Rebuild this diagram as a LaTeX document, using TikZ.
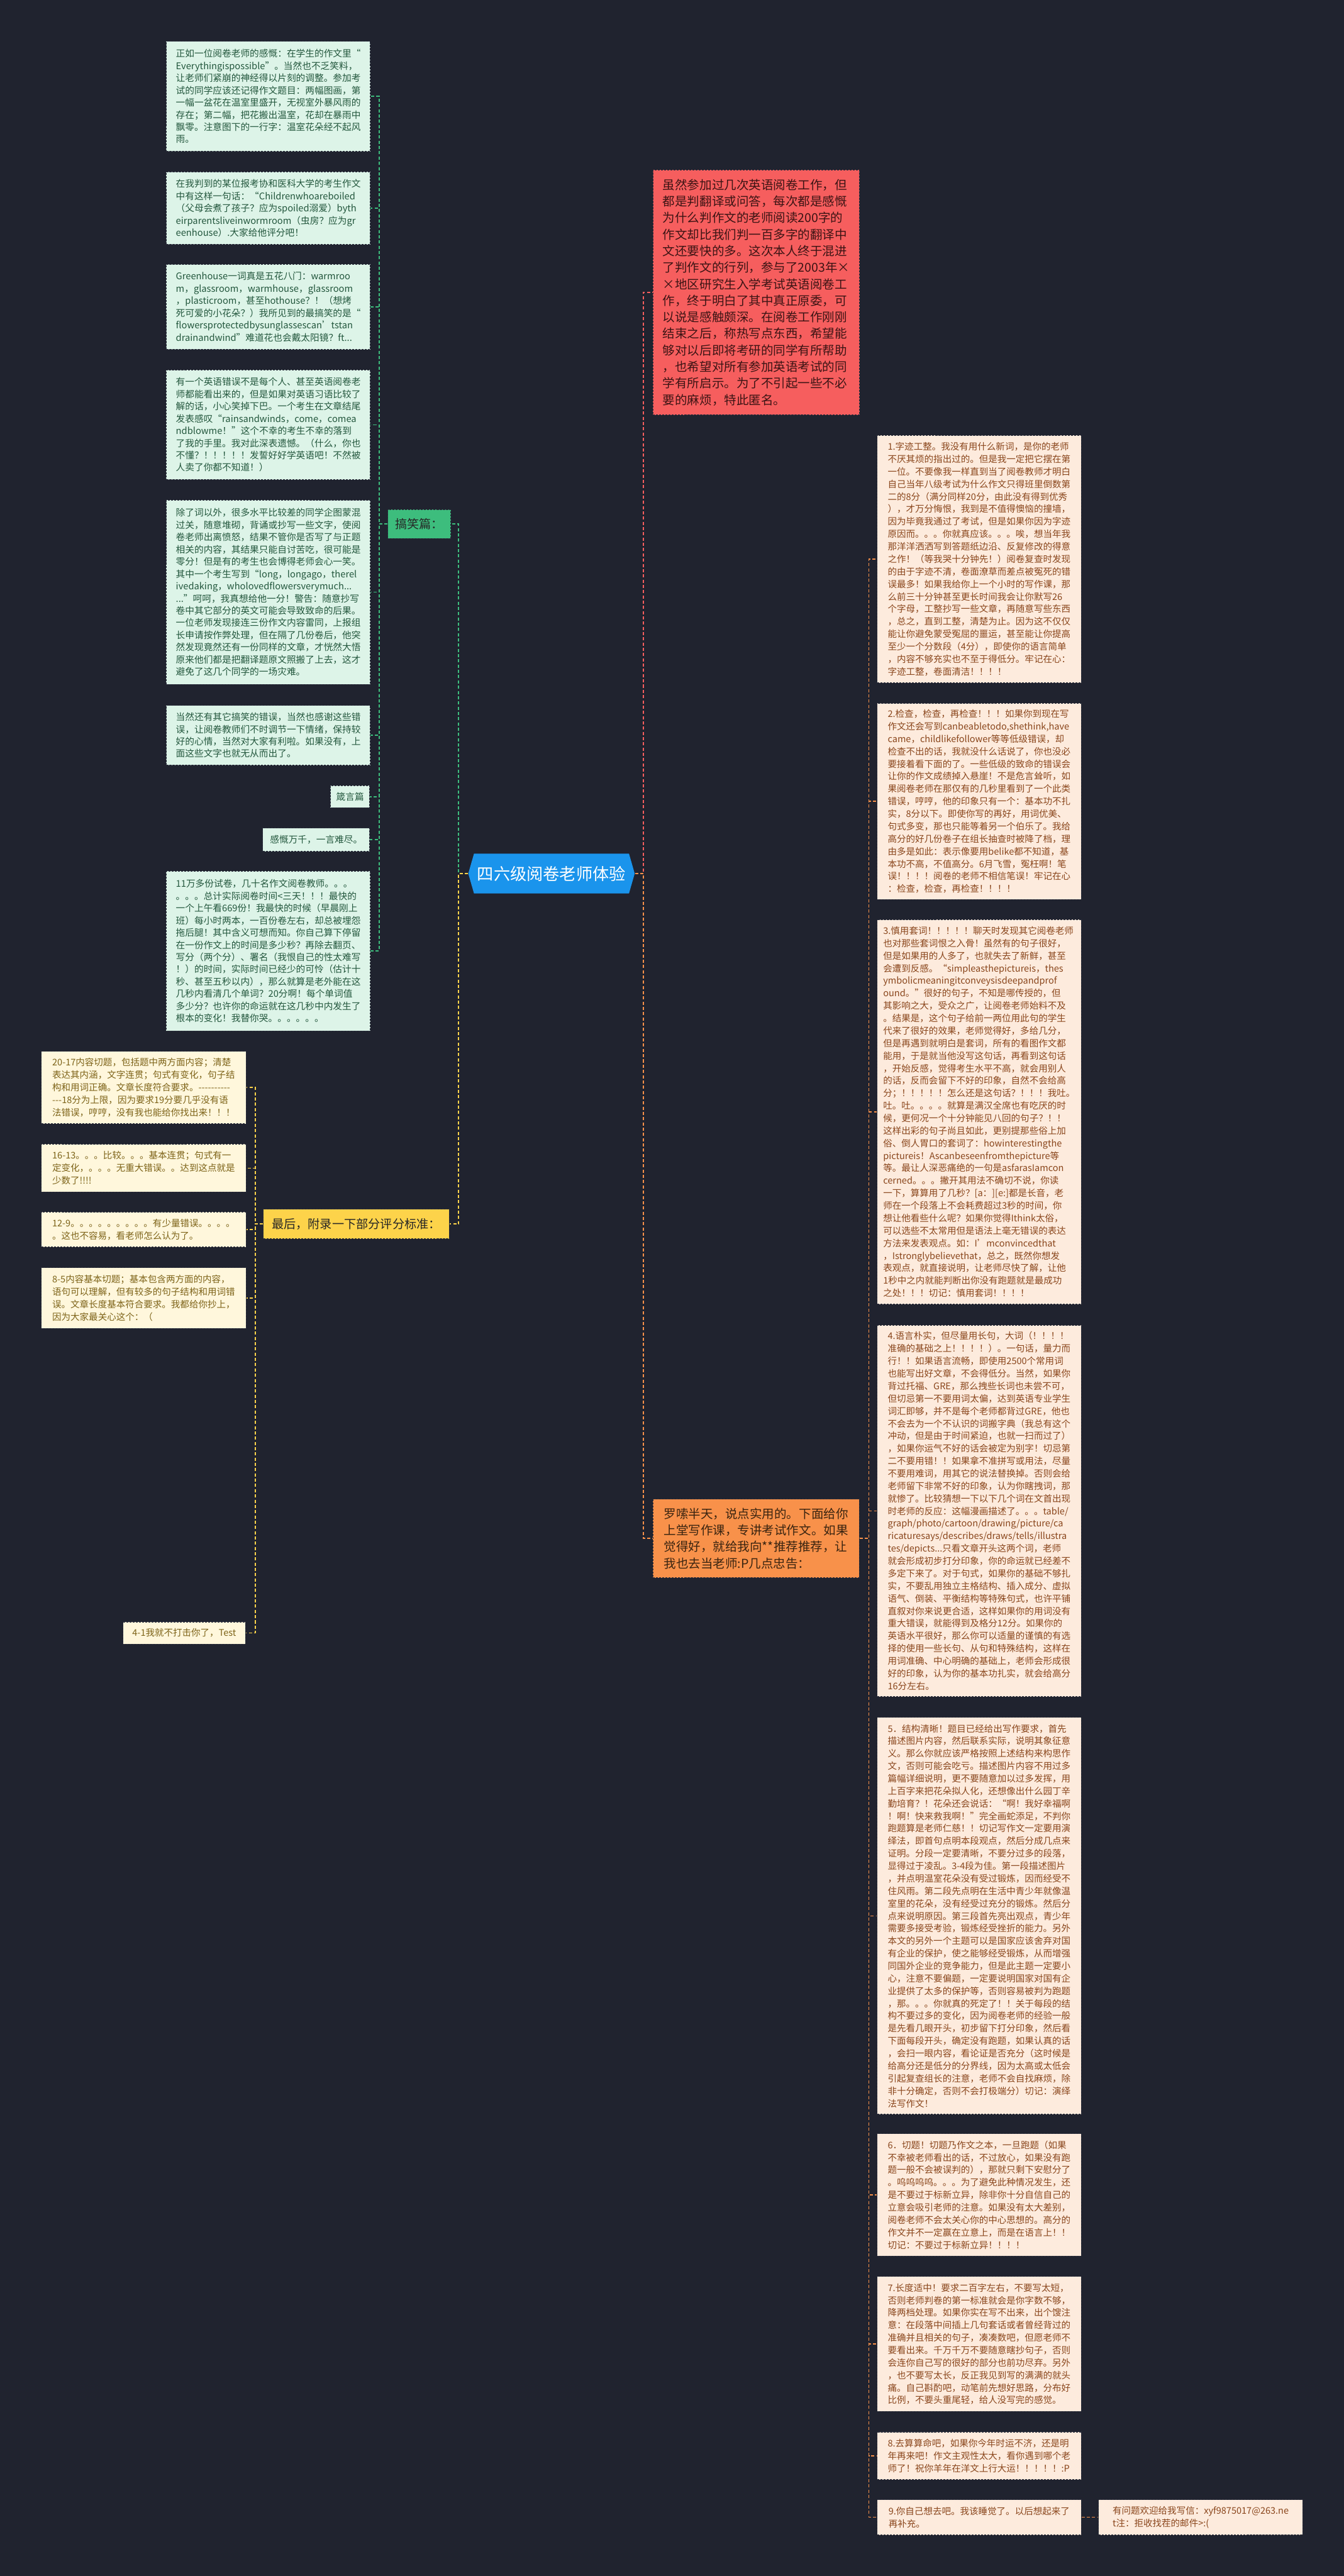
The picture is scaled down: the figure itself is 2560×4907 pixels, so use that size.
\documentclass[tikz,border=0pt]{standalone}
\usepackage{fontspec}
\setmainfont{Noto Sans CJK SC}[Ligatures=TeXOff]
\usetikzlibrary{shapes.symbols}

\definecolor{bgcol}{HTML}{20232F}
\definecolor{edgecol}{HTML}{2A2E3C}
\definecolor{rootcol}{HTML}{1A94EC}
\definecolor{gfill}{HTML}{DDF4E8}
\definecolor{gtext}{HTML}{23573D}
\definecolor{gline}{HTML}{3DBD7D}
\definecolor{yfill}{HTML}{FFF7DC}
\definecolor{ytext}{HTML}{7D6318}
\definecolor{yline}{HTML}{FDD34A}
\definecolor{rfill}{HTML}{F65E5E}
\definecolor{rtext}{HTML}{3C1414}
\definecolor{ofill}{HTML}{F8914A}
\definecolor{otext}{HTML}{3A2410}
\definecolor{pfill}{HTML}{FDEBDD}
\definecolor{ptext}{HTML}{8A461C}

\newcommand\leaftext{\fontsize{8.8pt}{11.65pt}\selectfont}
\newcommand\tiptext{\fontsize{8.7pt}{11.9pt}\selectfont}
\newcommand\scoretext{\fontsize{8.7pt}{12pt}\selectfont}
\newcommand\bigtext{\fontsize{11.7pt}{15.75pt}\selectfont}
\newcommand\hubtext{\fontsize{11.5pt}{14pt}\selectfont}

\tikzset{
  box/.style={draw=edgecol, dash pattern=on 2pt off 1pt, line width=0.6pt,
    align=left, inner sep=0pt},
  leafg/.style={box, fill=gfill, text=gtext, font=\leaftext, minimum width=194.5pt},
  leafy/.style={box, fill=yfill, text=ytext, font=\scoretext},
  leafp/.style={box, fill=pfill, text=ptext, font=\tiptext, minimum width=194.5pt},
  hubg/.style={box, fill=gline, text=black!85, font=\hubtext},
  huby/.style={box, fill=yline, text=black!85, font=\hubtext},
  link/.style={dash pattern=on 3pt off 2pt, line width=1pt},
}

\begin{document}
\begin{tikzpicture}[x=0.5pt, y=-0.5pt]
\fill[bgcol] (0,0) rectangle (2560,4907);
\useasboundingbox (0,0) rectangle (2560,4907);

% centre
\node[signal, signal to=west and east, signal pointer angle=148,
  fill=rootcol, text=white, font=\fontsize{15.7pt}{18pt}\selectfont,
  minimum width=158.5pt, minimum height=38pt, inner sep=0pt] (root) at (1050.5,1664) {四六级阅卷老师体验};

% left: funny part
\node[hubg, anchor=north west, minimum width=60pt, minimum height=27.5pt] (fun) at (738,970) {搞笑篇：};

\node[leafg, anchor=north west, minimum height=105pt] (fun1) at (316,78) {正如一位阅卷老师的感慨：在学生的作文里“\\
Everythingispossible”。当然也不乏笑料，\\
让老师们紧崩的神经得以片刻的调整。参加考\\
试的同学应该还记得作文题目：两幅图画，第\\
一幅一盆花在温室里盛开，无视室外暴风雨的\\
存在；第二幅，把花搬出温室，花却在暴雨中\\
飘零。注意图下的一行字：温室花朵经不起风\\
雨。};
\node[leafg, anchor=north west, minimum height=69pt] (fun2) at (316,327) {在我判到的某位报考协和医科大学的考生作文\\
中有这样一句话：“Childrenwhoareboiled\\
（父母会煮了孩子？应为spoiled溺爱）byth\\
eirparentsliveinwormroom（虫房？应为gr\\
eenhouse）.大家给他评分吧！};
\node[leafg, anchor=north west, minimum height=81pt] (fun3) at (316,503) {Greenhouse一词真是五花八门：warmroo\\
m，glassroom，warmhouse，glassroom\\
，plasticroom，甚至hothouse？！（想烤\\
死可爱的小花朵？）我所见到的最搞笑的是“\\
flowersprotectedbysunglassescan’tstan\\
drainandwind”难道花也会戴太阳镜？ft...};
\node[leafg, anchor=north west, minimum height=104.5pt] (fun4) at (316,704) {有一个英语错误不是每个人、甚至英语阅卷老\\
师都能看出来的，但是如果对英语习语比较了\\
解的话，小心笑掉下巴。一个考生在文章结尾\\
发表感叹“rainsandwinds，come，comea\\
ndblowme！”这个不幸的考生不幸的落到\\
了我的手里。我对此深表遗憾。（什么，你也\\
不懂？！！！！！发誓好好学英语吧！不然被\\
人卖了你都不知道！）};
\node[leafg, anchor=north west, minimum height=175.5pt] (fun5) at (316,952) {除了词以外，很多水平比较差的同学企图蒙混\\
过关，随意堆砌，背诵或抄写一些文字，使阅\\
卷老师出离愤怒，结果不管你是否写了与正题\\
相关的内容，其结果只能自讨苦吃，很可能是\\
零分！但是有的考生也会博得老师会心一笑。\\
其中一个考生写到“long，longago，therel\\
ivedaking，wholovedflowersverymuch...\\
...”呵呵，我真想给他一分！警告：随意抄写\\
卷中其它部分的英文可能会导致致命的后果。\\
一位老师发现接连三份作文内容雷同，上报组\\
长申请按作弊处理，但在隔了几份卷后，他突\\
然发现竟然还有一份同样的文章，才恍然大悟\\
原来他们都是把翻译题原文照搬了上去，这才\\
避免了这几个同学的一场灾难。};
\node[leafg, anchor=north west, minimum height=57pt] (fun6) at (316,1343) {当然还有其它搞笑的错误，当然也感谢这些错\\
误，让阅卷教师们不时调节一下情绪，保持较\\
好的心情，当然对大家有利啦。如果没有，上\\
面这些文字也就无从而出了。};
\node[leafg, anchor=north east, minimum width=37.5pt, minimum height=21pt] (fun7) at (705,1496) {箴言篇};
\node[leafg, anchor=north east, minimum width=102pt, minimum height=22pt] (fun8) at (705,1577) {感慨万千，一言难尽。};
\node[leafg, anchor=north west, minimum height=152pt] (fun9) at (316,1659) {11万多份试卷，几十名作文阅卷教师。。。\\
。。。总计实际阅卷时间<三天！！！最快的\\
一个上午看669份！我最快的时候（早晨刚上\\
班）每小时两本，一百份卷左右，却总被埋怨\\
拖后腿！其中含义可想而知。你自己算下停留\\
在一份作文上的时间是多少秒？再除去翻页、\\
写分（两个分）、署名（我恨自己的性太难写\\
！）的时间，实际时间已经少的可怜（估计十\\
秒、甚至五秒以内），那么就算是老外能在这\\
几秒内看清几个单词？20分啊！每个单词值\\
多少分？也许你的命运就在这几秒中内发生了\\
根本的变化！我替你哭。。。。。。};

% left: scoring
\node[huby, anchor=north west, minimum width=177pt, minimum height=28pt] (last) at (501,2303) {最后，附录一下部分评分标准：};

\node[leafy, anchor=north west, minimum width=195pt, minimum height=69pt] (sc1) at (78,2002) {20-17内容切题，包括题中两方面内容；清楚\\
表达其内涵，文字连贯；句式有变化，句子结\\
构和用词正确。文章长度符合要求。----------\\
---18分为上限，因为要求19分要几乎没有语\\
法错误，哼哼，没有我也能给你找出来！！！};
\node[leafy, anchor=north west, minimum width=195pt, minimum height=45.5pt] (sc2) at (78,2179) {16-13。。。比较。。。基本连贯；句式有一\\
定变化，。。。无重大错误。。达到这点就是\\
少数了!!!!};
\node[leafy, anchor=north west, minimum width=195pt, minimum height=33.5pt] (sc3) at (78,2308) {12-9。。。。。。。。。有少量错误。。。。\\
。这也不容易，看老师怎么认为了。};
\node[leafy, anchor=north west, minimum width=195pt, minimum height=58pt] (sc4) at (78,2414) {8-5内容基本切题；基本包含两方面的内容，\\
语句可以理解，但有较多的句子结构和用词错\\
误。文章长度基本符合要求。我都给你抄上，\\
因为大家最关心这个：（};
\node[leafy, anchor=north east, minimum width=116.5pt, minimum height=21pt] (sc5) at (468,3089) {4-1我就不打击你了，Test};

% right: intro and tips
\node[box, fill=rfill, text=rtext, font=\bigtext, anchor=north west,
  minimum width=197pt, minimum height=233.5pt] (intro) at (1243,323) {虽然参加过几次英语阅卷工作，但\\
都是判翻译或问答，每次都是感慨\\
为什么判作文的老师阅读200字的\\
作文却比我们判一百多字的翻译中\\
文还要快的多。这次本人终于混进\\
了判作文的行列，参与了2003年×\\
×地区研究生入学考试英语阅卷工\\
作，终于明白了其中真正原委，可\\
以说是感触颇深。在阅卷工作刚刚\\
结束之后，称热写点东西，希望能\\
够对以后即将考研的同学有所帮助\\
，也希望对所有参加英语考试的同\\
学有所启示。为了不引起一些不必\\
要的麻烦，特此匿名。};
\node[box, fill=ofill, text=otext, font=\bigtext, anchor=north west,
  minimum width=196.5pt, minimum height=75pt] (tips) at (1243,2855) {罗嗦半天，说点实用的。下面给你\\
上堂写作课，专讲考试作文。如果\\
觉得好，就给我向**推荐推荐，让\\
我也去当老师:P几点忠告：};

\node[leafp, anchor=north west, minimum height=235.5pt] (tip1) at (1670,829) {1.字迹工整。我没有用什么新词，是你的老师\\
不厌其烦的指出过的。但是我一定把它摆在第\\
一位。不要像我一样直到当了阅卷教师才明白\\
自己当年八级考试为什么作文只得班里倒数第\\
二的8分（满分同样20分，由此没有得到优秀\\
），才万分悔恨，我到是不值得懊恼的撞墙，\\
因为毕竟我通过了考试，但是如果你因为字迹\\
原因而。。。你就真应该。。。唉，想当年我\\
那洋洋洒洒写到答题纸边沿、反复修改的得意\\
之作！（等我哭十分钟先！）阅卷复查时发现\\
的由于字迹不清，卷面潦草而差点被冤死的错\\
误最多！如果我给你上一个小时的写作课，那\\
么前三十分钟甚至更长时间我会让你默写26\\
个字母，工整抄写一些文章，再随意写些东西\\
，总之，直到工整，清楚为止。因为这不仅仅\\
能让你避免蒙受冤屈的噩运，甚至能让你提高\\
至少一个分数段（4分），即使你的语言简单\\
，内容不够充实也不至于得低分。牢记在心：\\
字迹工整，卷面清洁！！！！};
\node[leafp, anchor=north west, minimum height=187pt] (tip2) at (1670,1339) {2.检查，检查，再检查！！！如果你到现在写\\
作文还会写到canbeabletodo,shethink,have\\
came，childlikefollower等等低级错误，却\\
检查不出的话，我就没什么话说了，你也没必\\
要接着看下面的了。一些低级的致命的错误会\\
让你的作文成绩掉入悬崖！不是危言耸听，如\\
果阅卷老师在那仅有的几秒里看到了一个此类\\
错误，哼哼，他的印象只有一个：基本功不扎\\
实，8分以下。即使你写的再好，用词优美、\\
句式多变，那也只能等着另一个伯乐了。我给\\
高分的好几份卷子在组长抽查时被降了档，理\\
由多是如此：表示像要用belike都不知道，基\\
本功不高，不值高分。6月飞雪，冤枉啊！笔\\
误！！！！阅卷的老师不相信笔误！牢记在心\\
：检查，检查，再检查！！！！};
\node[leafp, anchor=north west, minimum height=366.5pt] (tip3) at (1670,1751) {3.慎用套词！！！！！聊天时发现其它阅卷老师\\
也对那些套词恨之入骨！虽然有的句子很好，\\
但是如果用的人多了，也就失去了新鲜，甚至\\
会遭到反感。“simpleasthepictureis，thes\\
ymbolicmeaningitconveysisdeepandprof\\
ound。”很好的句子，不知是哪传授的，但\\
其影响之大，受众之广，让阅卷老师始料不及\\
。结果是，这个句子给前一两位用此句的学生\\
代来了很好的效果，老师觉得好，多给几分，\\
但是再遇到就明白是套词，所有的看图作文都\\
能用，于是就当他没写这句话，再看到这句话\\
，开始反感，觉得考生水平不高，就会用别人\\
的话，反而会留下不好的印象，自然不会给高\\
分；！！！！！怎么还是这句话？！！！我吐。\\
吐。吐。。。。就算是满汉全席也有吃厌的时\\
候，更何况一个十分钟能见八回的句子？！！\\
这样出彩的句子尚且如此，更别提那些俗上加\\
俗、倒人胃口的套词了：howinterestingthe\\
pictureis！Ascanbeseenfromthepicture等\\
等。最让人深恶痛绝的一句是asfarasIamcon\\
cerned。。。撇开其用法不确切不说，你读\\
一下，算算用了几秒？[a：][e:]都是长音，老\\
师在一个段落上不会耗费超过3秒的时间，你\\
想让他看些什么呢？如果你觉得Ithink太俗，\\
可以选些不太常用但是语法上毫无错误的表达\\
方法来发表观点。如：I’mconvincedthat\\
，Istronglybelievethat，总之，既然你想发\\
表观点，就直接说明，让老师尽快了解，让他\\
1秒中之内就能判断出你没有跑题就是最成功\\
之处！！！切记：慎用套词！！！！};
\node[leafp, anchor=north west, minimum height=353.5pt] (tip4) at (1670,2524) {4.语言朴实，但尽量用长句，大词（！！！！\\
准确的基础之上！！！！）。一句话，量力而\\
行！！如果语言流畅，即使用2500个常用词\\
也能写出好文章，不会得低分。当然，如果你\\
背过托福、GRE，那么拽些长词也未尝不可，\\
但切忌第一不要用词太偏，达到英语专业学生\\
词汇即够，并不是每个老师都背过GRE，他也\\
不会去为一个不认识的词搬字典（我总有这个\\
冲动，但是由于时间紧迫，也就一扫而过了）\\
，如果你运气不好的话会被定为别字！切忌第\\
二不要用错！！如果拿不准拼写或用法，尽量\\
不要用难词，用其它的说法替换掉。否则会给\\
老师留下非常不好的印象，认为你瞎拽词，那\\
就惨了。比较猜想一下以下几个词在文首出现\\
时老师的反应：这幅漫画描述了。。。table/\\
graph/photo/cartoon/drawing/picture/ca\\
ricaturesays/describes/draws/tells/illustra\\
tes/depicts...只看文章开头这两个词，老师\\
就会形成初步打分印象，你的命运就已经差不\\
多定下来了。对于句式，如果你的基础不够扎\\
实，不要乱用独立主格结构、插入成分、虚拟\\
语气、倒装、平衡结构等特殊句式，也许平铺\\
直叙对你来说更合适，这样如果你的用词没有\\
重大错误，就能得到及格分12分。如果你的\\
英语水平很好，那么你可以适量的谨慎的有选\\
择的使用一些长句、从句和特殊结构，这样在\\
用词准确、中心明确的基础上，老师会形成很\\
好的印象，认为你的基本功扎实，就会给高分\\
16分左右。};
\node[leafp, anchor=north west, minimum height=378pt] (tip5) at (1670,3271) {5．结构清晰！题目已经给出写作要求，首先\\
描述图片内容，然后联系实际，说明其象征意\\
义。那么你就应该严格按照上述结构来构思作\\
文，否则可能会吃亏。描述图片内容不用过多\\
篇幅详细说明，更不要随意加以过多发挥，用\\
上百字来把花朵拟人化，还想像出什么园丁辛\\
勤培育？！花朵还会说话：“啊！我好幸福啊\\
！啊！快来救我啊！”完全画蛇添足，不判你\\
跑题算是老师仁慈！！切记写作文一定要用演\\
绎法，即首句点明本段观点，然后分成几点来\\
证明。分段一定要清晰，不要分过多的段落，\\
显得过于凌乱。3-4段为佳。第一段描述图片\\
，并点明温室花朵没有受过锻炼，因而经受不\\
住风雨。第二段先点明在生活中青少年就像温\\
室里的花朵，没有经受过充分的锻炼。然后分\\
点来说明原因。第三段首先亮出观点，青少年\\
需要多接受考验，锻炼经受挫折的能力。另外\\
本文的另外一个主题可以是国家应该舍弃对国\\
有企业的保护，使之能够经受锻炼，从而增强\\
同国外企业的竞争能力，但是此主题一定要小\\
心，注意不要偏题，一定要说明国家对国有企\\
业提供了太多的保护等，否则容易被判为跑题\\
，那。。。你就真的死定了！！关于每段的结\\
构不要过多的变化，因为阅卷老师的经验一般\\
是先看几眼开头，初步留下打分印象，然后看\\
下面每段开头，确定没有跑题，如果认真的话\\
，会扫一眼内容，看论证是否充分（这时候是\\
给高分还是低分的分界线，因为太高或太低会\\
引起复查组长的注意，老师不会自找麻烦，除\\
非十分确定，否则不会打极端分）切记：演绎\\
法写作文！};
\node[leafp, anchor=north west, minimum height=116.5pt] (tip6) at (1670,4064) {6．切题！切题乃作文之本，一旦跑题（如果\\
不幸被老师看出的话，不过放心，如果没有跑\\
题一般不会被误判的），那就只剩下安慰分了\\
。呜呜呜呜。。。为了避免此种情况发生，还\\
是不要过于标新立异，除非你十分自信自己的\\
立意会吸引老师的注意。如果没有太大差别，\\
阅卷老师不会太关心你的中心思想的。高分的\\
作文并不一定赢在立意上，而是在语言上！！\\
切记：不要过于标新立异！！！！};
\node[leafp, anchor=north west, minimum height=128.5pt] (tip7) at (1670,4336) {7.长度适中！要求二百字左右，不要写太短，\\
否则老师判卷的第一标准就会是你字数不够，\\
降两档处理。如果你实在写不出来，出个馊注\\
意：在段落中间插上几句套话或者曾经背过的\\
准确并且相关的句子，凑凑数吧，但愿老师不\\
要看出来。千万千万不要随意瞎抄句子，否则\\
会连你自己写的很好的部分也前功尽弃。另外\\
，也不要写太长，反正我见到写的满满的就头\\
痛。自己斟酌吧，动笔前先想好思路，分布好\\
比例，不要头重尾轻，给人没写完的感觉。};
\node[leafp, anchor=north west, minimum height=45.5pt] (tip8) at (1670,4632) {8.去算算命吧，如果你今年时运不济，还是明\\
年再来吧！作文主观性太大，看你遇到哪个老\\
师了！祝你羊年在洋文上行大运！！！！！:P};
\node[leafp, anchor=north west, minimum height=33.5pt] (tip9) at (1670,4761) {9.你自己想去吧。我该睡觉了。以后想起来了\\
再补充。};
\node[leafp, anchor=north west, minimum height=33.5pt] (mail) at (2092,4761) {有问题欢迎给我写信：xyf9875017@263.ne\\
t注：拒收找茬的邮件>:(};

% links
\draw[link, gline] (root.west) -- ++(-18,0) |- (fun.east);
\draw[link, yline] (root.west) -- ++(-18,0) |- (last.east);
\foreach \n in {fun1,fun2,fun3,fun4,fun5,fun6,fun7,fun8,fun9}
  \draw[link, gline] (fun.west) -- ++(-16,0) |- (\n.east);
\foreach \n in {sc1,sc2,sc3,sc4,sc5}
  \draw[link, yline] (last.west) -- ++(-15,0) |- (\n.east);
\draw[link, rfill] (root.east) -- ++(16,0) |- (intro.west);
\draw[link, ofill] (root.east) -- ++(16,0) |- (tips.west);
\foreach \n in {tip1,tip2,tip3,tip4,tip5,tip6,tip7,tip8,tip9}
  \draw[link, ofill] (tips.east) -- ++(18,0) |- (\n.west);
\draw[link, ofill] (tip9.east) -- (mail.west);
\end{tikzpicture}
\end{document}
